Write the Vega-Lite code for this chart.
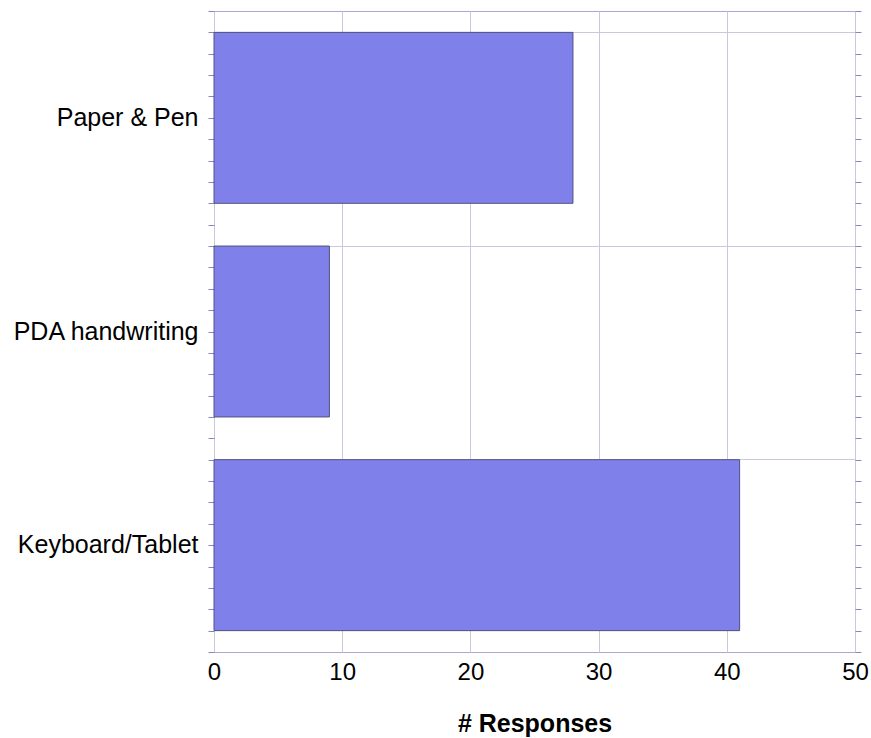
{
  "$schema": "https://vega.github.io/schema/vega-lite/v6.json",
  "autosize": {"type": "none"},
  "width": 641,
  "height": 641,
  "padding": {"left": 214, "top": 11, "right": 16, "bottom": 86},
  "background": "white",
  "config": {
    "view": {"stroke": "#a8a8d0", "strokeWidth": 1},
    "font": "Liberation Sans",
    "axis": {"labelFont": "Liberation Sans", "titleFont": "Liberation Sans"}
  },
  "data": {
    "values": [
      {"method": "Paper & Pen", "responses": 28},
      {"method": "PDA handwriting", "responses": 9},
      {"method": "Keyboard/Tablet", "responses": 41}
    ]
  },
  "encoding": {
    "x": {
      "field": "responses",
      "type": "quantitative",
      "scale": {"domain": [0, 50], "nice": false},
      "axis": {
        "values": [0, 10, 20, 30, 40, 50],
        "title": "# Responses",
        "titleFontSize": 25,
        "titleFontWeight": "bold",
        "titleColor": "black",
        "titlePadding": 27,
        "labelFontSize": 24,
        "labelColor": "black",
        "labelPadding": 8,
        "labelFlush": false,
        "labelOverlap": false,
        "ticks": false,
        "domain": false,
        "grid": true,
        "gridColor": "#c8c8e0",
        "gridWidth": 1
      }
    }
  },
  "layer": [
    {
      "mark": {"type": "bar", "fill": "#8080ea", "stroke": "#505080", "strokeWidth": 1},
      "encoding": {
        "y": {
          "field": "method",
          "type": "nominal",
          "sort": ["Paper & Pen", "PDA handwriting", "Keyboard/Tablet"],
          "scale": {"paddingInner": 0.2, "paddingOuter": 0.1},
          "axis": {
            "title": null,
            "orient": "left",
            "ticks": false,
            "domain": false,
            "labelFontSize": 25,
            "labelColor": "black",
            "labelPadding": 16,
            "labelLimit": 300,
            "grid": true,
            "bandPosition": 0,
            "gridColor": "#c8c8e0",
            "gridWidth": 1
          }
        }
      }
    },
    {
      "mark": {"type": "point", "opacity": 0},
      "encoding": {
        "y": {
          "datum": 0,
          "type": "quantitative",
          "scale": {"domain": [0, 30], "nice": false},
          "axis": {
            "orient": "left",
            "title": null,
            "labels": false,
            "grid": false,
            "domain": false,
            "ticks": true,
            "tickSize": 6,
            "tickColor": "#8888b8",
            "values": [0,1,2,3,4,5,6,7,8,9,10,11,12,13,14,15,16,17,18,19,20,21,22,23,24,25,26,27,28,29,30]
          }
        }
      }
    },
    {
      "mark": {"type": "point", "opacity": 0},
      "encoding": {
        "y": {
          "datum": 0,
          "type": "quantitative",
          "scale": {"domain": [0, 30], "nice": false},
          "axis": {
            "orient": "right",
            "title": null,
            "labels": false,
            "grid": false,
            "domain": false,
            "ticks": true,
            "tickSize": 6,
            "tickColor": "#8888b8",
            "values": [0,1,2,3,4,5,6,7,8,9,10,11,12,13,14,15,16,17,18,19,20,21,22,23,24,25,26,27,28,29,30]
          }
        }
      }
    }
  ],
  "resolve": {"scale": {"y": "independent"}, "axis": {"y": "independent"}}
}
